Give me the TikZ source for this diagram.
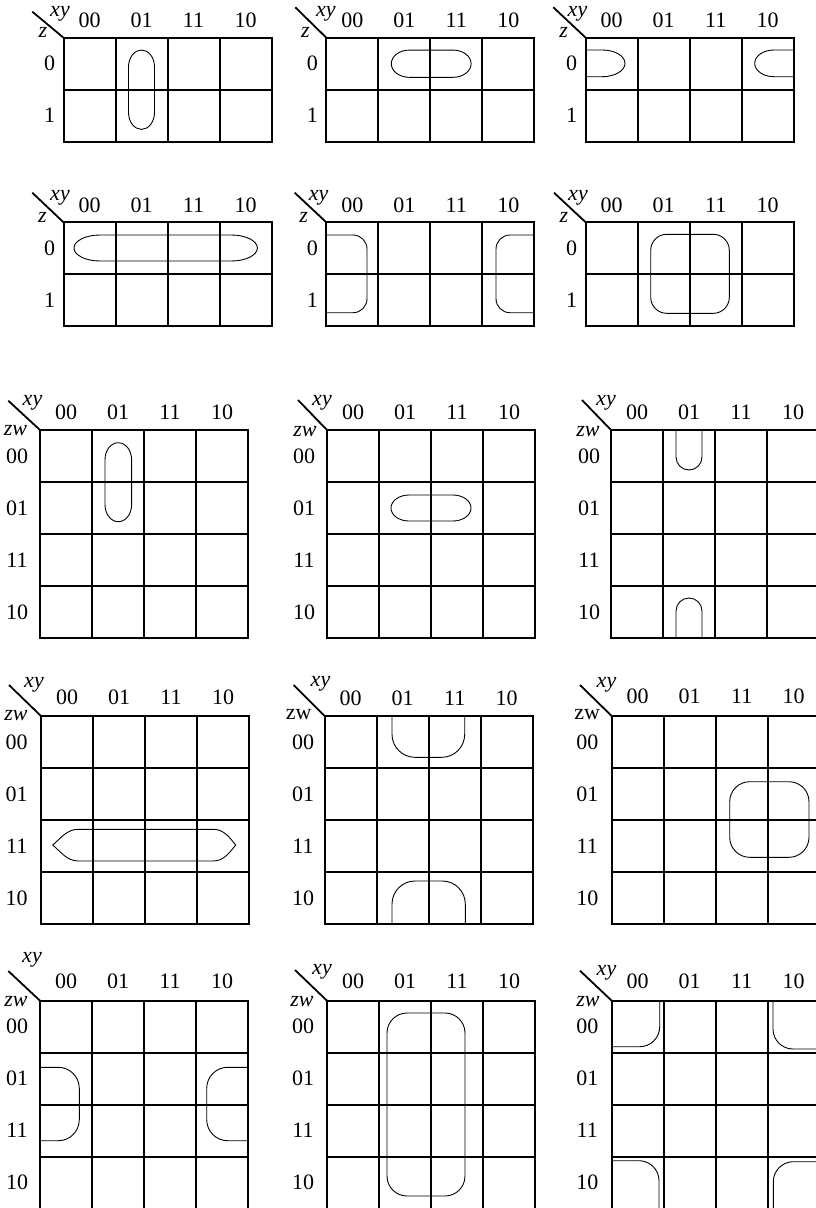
\documentclass[tikz,border=0pt]{standalone}
\usepackage{fontspec}
\setmainfont{Liberation Serif}
\newcommand{\kmap}[7]{%
 \foreach \i in {0,...,4} \draw[gridline] ({#2+52*\i},#3) -- ({#2+52*\i},{#3+52*#4});
 \foreach \j in {0,...,#4} \draw[gridline] (#2,{#3+52*\j}) -- ({#2+208},{#3+52*\j});
 \foreach \lab [count=\c] in {00,01,11,10} \node[lbl] (#1h\c) at ({#2+52*\c-26},{#3-#6}) {\lab};
 \foreach \lab [count=\c] in {#7} \node[lbl] (#1r\c) at ({#2-#5},{#3+52*\c-26}) {\lab};
}
% vertical stadium: cx cy halfw halfh ry
\newcommand{\vstad}[5]{%
 \draw[loopline] ({#1-#3},{#2+#4-#5}) -- ({#1-#3},{#2-#4+#5})
   arc[start angle=180, end angle=360, x radius=#3, y radius=#5]
   -- ({#1+#3},{#2+#4-#5})
   arc[start angle=0, end angle=180, x radius=#3, y radius=#5] -- cycle;}
% horizontal stadium: cx cy halfw halfh rx
\newcommand{\hstad}[5]{%
 \draw[loopline] ({#1-#3+#5},{#2-#4}) -- ({#1+#3-#5},{#2-#4})
   arc[start angle=-90, end angle=90, x radius=#5, y radius=#4]
   -- ({#1-#3+#5},{#2+#4})
   arc[start angle=90, end angle=270, x radius=#5, y radius=#4] -- cycle;}
\begin{document}
\begin{tikzpicture}[x=1pt,y=-1pt,
  gridline/.style={line width=2pt, line cap=rect},
  diag/.style={line width=1.8pt},
  loopline/.style={line width=0.9pt},
  lbl/.style={inner sep=0pt, font=\fontsize{22}{26}\selectfont},
  vlbl/.style={inner sep=0pt, font=\fontsize{22}{26}\selectfont\itshape},
  rlbl/.style={inner sep=0pt, font=\fontsize{22}{26}\selectfont},
]
\fill[white] (0,0) rectangle (816,1208);
\useasboundingbox (0,0) rectangle (816,1208);
\clip (0,0) rectangle (816,1208);

% ---------- 3-variable maps ----------
\kmap{m1}{63.5}{37.7}{2}{14}{17.7}{0,1}
\kmap{m2}{326.3}{37.7}{2}{14}{17.7}{0,1}
\kmap{m3}{585.7}{37.7}{2}{14}{17.7}{0,1}
\kmap{m4}{63.5}{222.3}{2}{14}{17.3}{0,1}
\kmap{m5}{326.3}{222.3}{2}{14}{17.3}{0,1}
\kmap{m6}{585.7}{222.3}{2}{14}{17.3}{0,1}

\coordinate (m1c) at (63.5,37.7);  \coordinate (m1d) at (32.3,11.7);
\coordinate (m2c) at (326.3,37.7); \coordinate (m2d) at (295.3,7.3);
\coordinate (m3c) at (585.7,37.7); \coordinate (m3d) at (553.3,7.3);
\coordinate (m4c) at (63.5,222.3); \coordinate (m4d) at (32.3,192.7);
\coordinate (m5c) at (326.3,222.3);\coordinate (m5d) at (294.7,192.7);
\coordinate (m6c) at (585.7,222.3);\coordinate (m6d) at (554,192.7);
\foreach \m in {m1,m2,m3,m4,m5,m6} \draw[diag] (\m d) -- (\m c);

\node[vlbl] (m1xy) at (60,14) {xy};     \node[vlbl] (m1z) at (43,32.5) {z};
\node[vlbl] (m2xy) at (325.8,14) {xy};  \node[vlbl] (m2z) at (305.3,32.5) {z};
\node[vlbl] (m3xy) at (577.5,14) {xy};  \node[vlbl] (m3z) at (563.7,32) {z};
\node[vlbl] (m4xy) at (60,197.5) {xy};  \node[vlbl] (m4z) at (42.5,217) {z};
\node[vlbl] (m5xy) at (318.7,198.3) {xy}; \node[vlbl] (m5z) at (303.7,217) {z};
\node[vlbl] (m6xy) at (578,198) {xy};   \node[vlbl] (m6z) at (564,217) {z};

% loops 3-var
\vstad{141.5}{89.7}{13}{39.7}{17}
\hstad{431.2}{63.7}{39.9}{13.6}{18}
\draw[loopline] (585.7,50) -- (602.3,50) arc[start angle=-90, end angle=90, x radius=22.7, y radius=13.35] -- (585.7,76.7);
\draw[loopline] (793.7,50) -- (774,50) arc[start angle=270, end angle=90, x radius=19.3, y radius=13.35] -- (793.7,76.7);
\hstad{165.7}{248}{91.7}{13}{26}
\draw[loopline, rounded corners=14] (326.3,235) -- (367,235) -- (367,312.7) -- (326.3,312.7);
\draw[loopline, rounded corners=14] (534.3,235) -- (496,235) -- (496,312.7) -- (534.3,312.7);
\draw[loopline, rounded corners=16] (650.7,234.3) rectangle (729.3,313.3);

% ---------- 4-variable maps ----------
\kmap{m7}{40}{430}{4}{23}{17.7}{00,01,11,10}
\kmap{m8}{327}{430}{4}{23}{17.7}{00,01,11,10}
\kmap{m9}{611}{430}{4}{22}{17.7}{00,01,11,10}
\kmap{m10}{41}{716}{4}{24.3}{18.7}{00,01,11,10}
\kmap{m11}{324.7}{716}{4}{21.7}{17.7}{00,01,11,10}
\kmap{m12}{611.7}{716}{4}{24.4}{19.3}{00,01,11,10}
\kmap{m13}{40}{1000.7}{4}{23}{19}{00,01,11,10}
\kmap{m14}{327}{1000.7}{4}{24}{19}{00,01,11,10}
\kmap{m15}{611.7}{1000.7}{4}{24.4}{19}{00,01,11,10}

\coordinate (m7c) at (40,430);      \coordinate (m7d) at (8.3,400.7);
\coordinate (m8c) at (327,430);     \coordinate (m8d) at (298,400);
\coordinate (m9c) at (611,430);     \coordinate (m9d) at (582,400);
\coordinate (m10c) at (41,716);     \coordinate (m10d) at (9,685);
\coordinate (m11c) at (324.7,716);  \coordinate (m11d) at (293.7,685);
\coordinate (m12c) at (611.7,716);  \coordinate (m12d) at (580,685);
\coordinate (m13c) at (40,1000.7);  \coordinate (m13d) at (8.3,971);
\coordinate (m14c) at (327,1000.7); \coordinate (m14d) at (295,970);
\coordinate (m15c) at (611.7,1000.7); \coordinate (m15d) at (580,970.7);
\foreach \m in {m7,m8,m9,m10,m11,m12,m13,m14,m15} \draw[diag] (\m d) -- (\m c);

\node[vlbl] (m7xy) at (32.5,402.5) {xy};   \node[vlbl] (m7zw) at (15.5,431) {zw};
\node[vlbl] (m8xy) at (322,403) {xy};      \node[vlbl] (m8zw) at (305,432) {zw};
\node[vlbl] (m9xy) at (606,403) {xy};      \node[vlbl] (m9zw) at (588,432) {zw};
\node[vlbl] (m10xy) at (34,685) {xy};      \node[vlbl] (m10zw) at (16,716) {zw};
\node[vlbl] (m11xy) at (320.5,684) {xy};   \node[rlbl] (m11zw) at (298.7,715) {zw};
\node[vlbl] (m12xy) at (606.5,685) {xy};   \node[rlbl] (m12zw) at (587.3,715) {zw};
\node[vlbl] (m13xy) at (32,960) {xy};      \node[vlbl] (m13zw) at (16,1002) {zw};
\node[vlbl] (m14xy) at (322,972) {xy};     \node[vlbl] (m14zw) at (302,1002) {zw};
\node[vlbl] (m15xy) at (606.5,973) {xy};   \node[vlbl] (m15zw) at (588,1002) {zw};

% loops 4-var
\vstad{118.3}{482.2}{13.3}{39.5}{17}
\hstad{431}{508}{40}{13}{18}
\draw[loopline] (676,430) -- (676,457) arc[start angle=180, end angle=0, x radius=13, y radius=13] -- (702,430);
\draw[loopline] (676,638) -- (676,611) arc[start angle=180, end angle=360, x radius=13, y radius=13] -- (702,638);
\draw[loopline] (78.3,829.3) -- (213.3,829.3) .. controls (224,829.3) and (230,838) .. (235.7,845)
  .. controls (230,852) and (224,861) .. (213.3,861) -- (78.3,861)
  .. controls (67,861) and (61,852) .. (52.7,845)
  .. controls (61,838) and (67,829.3) .. (78.3,829.3) -- cycle;
\draw[loopline, rounded corners=23] (392,716) -- (392,757.3) -- (464.7,757.3) -- (464.7,716);
\draw[loopline, rounded corners=23] (392,924) -- (392,881) -- (465.3,881) -- (465.3,924);
\draw[loopline, rounded corners=20] (729.7,781.7) rectangle (809,857.3);
\draw[loopline, rounded corners=21] (40,1067.3) -- (79.3,1067.3) -- (79.3,1140.7) -- (40,1140.7);
\draw[loopline, rounded corners=21] (248,1067.3) -- (206.7,1067.3) -- (206.7,1140.7) -- (248,1140.7);
\draw[loopline, rounded corners=20] (387,1013) rectangle (465,1196);
\draw[loopline, rounded corners=20] (659.7,1000.7) -- (659.7,1046.7) -- (611.7,1046.7);
\draw[loopline, rounded corners=20] (773,1000.7) -- (773,1049) -- (816,1049);
\draw[loopline, rounded corners=20] (611.7,1160.7) -- (659,1160.7) -- (659,1208);
\draw[loopline, rounded corners=20] (816,1161.7) -- (773.3,1161.7) -- (773.3,1208);
\end{tikzpicture}
\end{document}
